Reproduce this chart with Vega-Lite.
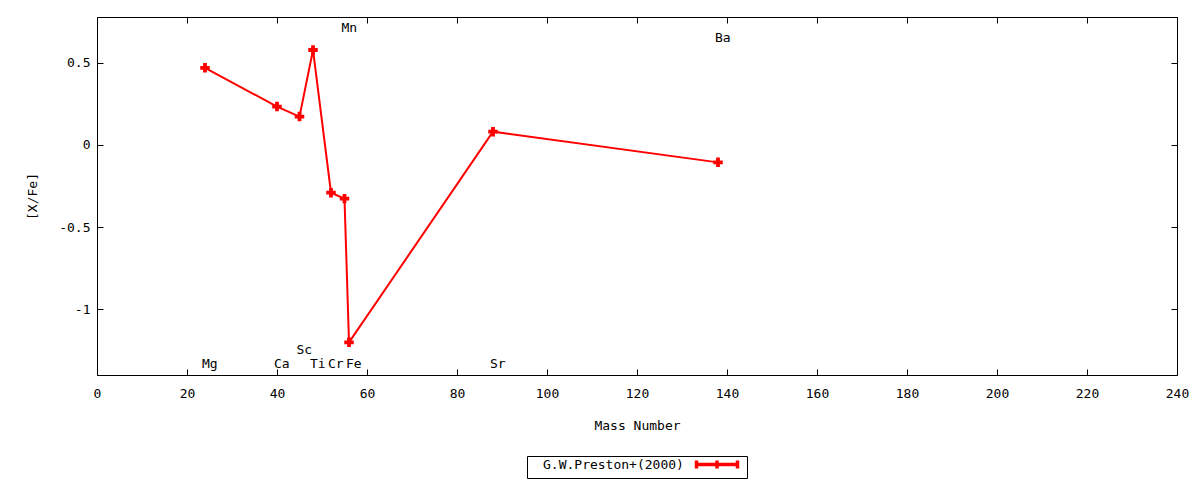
{
  "$schema": "https://vega.github.io/schema/vega-lite/v6.json",
  "autosize": "none",
  "width": 1080,
  "height": 358,
  "padding": {"left": 97, "top": 17, "right": 23, "bottom": 105},
  "background": "white",
  "config": {
    "view": {"stroke": "black", "strokeWidth": 1},
    "font": "DejaVu Sans Mono",
    "axis": {
      "domain": false,
      "grid": false,
      "tickColor": "black",
      "tickSize": -6,
      "tickWidth": 1,
      "labelFont": "DejaVu Sans Mono",
      "labelFontSize": 13,
      "labelColor": "black",
      "titleFont": "DejaVu Sans Mono",
      "titleFontSize": 13,
      "titleFontWeight": "normal",
      "titleColor": "black"
    }
  },
  "datasets": {
    "abund": [
      {"element": "Mg", "mass": 24, "xfe": 0.47},
      {"element": "Ca", "mass": 40, "xfe": 0.234},
      {"element": "Sc", "mass": 45, "xfe": 0.173},
      {"element": "Ti", "mass": 48, "xfe": 0.579},
      {"element": "Cr", "mass": 52, "xfe": -0.291},
      {"element": "Mn", "mass": 55, "xfe": -0.327},
      {"element": "Fe", "mass": 56, "xfe": -1.203},
      {"element": "Sr", "mass": 88, "xfe": 0.081},
      {"element": "Ba", "mass": 138, "xfe": -0.106}
    ],
    "labels": [
      {"element": "Mg", "mass": 24, "ly": -1.335},
      {"element": "Ca", "mass": 40, "ly": -1.335},
      {"element": "Sc", "mass": 45, "ly": -1.25},
      {"element": "Ti", "mass": 48, "ly": -1.335},
      {"element": "Cr", "mass": 52, "ly": -1.335},
      {"element": "Mn", "mass": 55, "ly": 0.715},
      {"element": "Fe", "mass": 56, "ly": -1.335},
      {"element": "Sr", "mass": 88, "ly": -1.335},
      {"element": "Ba", "mass": 138, "ly": 0.652}
    ]
  },
  "resolve": {"axis": {"x": "independent", "y": "independent"}},
  "layer": [
    {
      "data": {"name": "abund"},
      "mark": {"type": "line", "strokeWidth": 2, "clip": true},
      "encoding": {
        "x": {
          "field": "mass", "type": "quantitative",
          "scale": {"domain": [0, 240], "nice": false, "zero": false},
          "axis": {"values": [0,20,40,60,80,100,120,140,160,180,200,220,240], "title": "Mass Number", "labelPadding": 18, "titlePadding": 19, "labelFlush": false}
        },
        "y": {
          "field": "xfe", "type": "quantitative",
          "scale": {"domain": [-1.402, 0.78], "nice": false, "zero": false},
          "axis": {"values": [-1, -0.5, 0, 0.5], "title": "[X/Fe]", "labelPadding": 13, "titlePadding": 19, "labelExpr": "'' + datum.value"}
        },
        "color": {
          "datum": "G.W.Preston+(2000)",
          "type": "nominal",
          "scale": {"range": ["#ff0000"]},
          "legend": {
            "title": null,
            "orient": "none",
            "legendX": 430,
            "legendY": 439,
            "strokeColor": "black",
            "padding": 2,
            "labelFont": "DejaVu Sans Mono",
            "labelFontSize": 13,
            "labelColor": "black",
            "symbolType": "M161,0L202,0M161,-4L161,4M181.5,-4L181.5,4M202,-4L202,4",
            "symbolSize": 4,
            "symbolStrokeWidth": 3.5,
            "labelOffset": 1
          }
        }
      }
    },
    {
      "data": {"name": "abund"},
      "mark": {"type": "point", "shape": "cross", "filled": true, "color": "#ff0000", "size": 90, "opacity": 1},
      "encoding": {
        "x": {"field": "mass", "type": "quantitative", "axis": null},
        "y": {"field": "xfe", "type": "quantitative", "axis": null}
      }
    },
    {
      "data": {"name": "labels"},
      "mark": {"type": "text", "align": "left", "baseline": "middle", "dx": -3, "font": "DejaVu Sans Mono", "fontSize": 13, "color": "black"},
      "encoding": {
        "x": {"field": "mass", "type": "quantitative", "axis": null},
        "y": {"field": "ly", "type": "quantitative", "axis": null},
        "text": {"field": "element", "type": "nominal"}
      }
    },
    {
      "data": {"name": "abund"},
      "mark": {"type": "point", "opacity": 0},
      "encoding": {
        "x": {"field": "mass", "type": "quantitative", "axis": {"orient": "top", "labels": false, "title": null, "values": [0,20,40,60,80,100,120,140,160,180,200,220,240]}},
        "y": {"field": "xfe", "type": "quantitative", "axis": {"orient": "right", "labels": false, "title": null, "values": [-1, -0.5, 0, 0.5]}}
      }
    }
  ]
}
